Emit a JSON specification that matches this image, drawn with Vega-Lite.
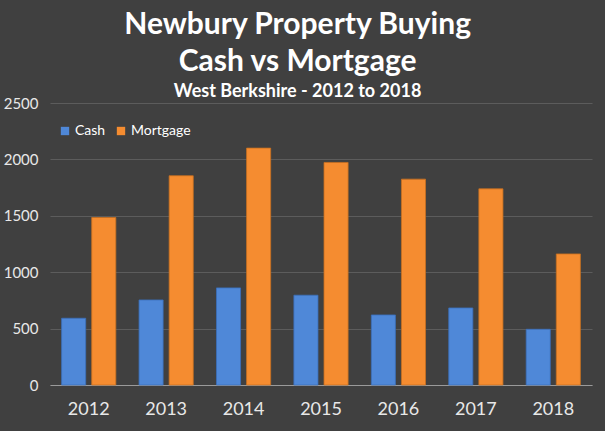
{
  "$schema": "https://vega.github.io/schema/vega-lite/v6.json",
  "description": "Newbury property buying, cash vs mortgage, 2012 to 2018.",
  "background": "#404040",
  "width": 605,
  "height": 431,
  "autosize": {"type": "fit", "contains": "padding"},
  "padding": {"left": 3, "right": 13, "top": 10, "bottom": 13},
  "title": {
    "text": ["Newbury Property Buying", "Cash vs Mortgage"],
    "subtitle": "West Berkshire - 2012 to 2018",
    "frame": "bounds",
    "anchor": "middle",
    "font": "Lato",
    "fontSize": 30,
    "fontWeight": "bold",
    "color": "#ffffff",
    "lineHeight": 37,
    "subtitleFont": "Lato",
    "subtitleFontSize": 18,
    "subtitleFontWeight": "bold",
    "subtitleColor": "#ffffff",
    "subtitlePadding": 6,
    "offset": -5
  },
  "data": {
    "values": [
      {"year": "2012", "type": "Cash", "sales": 592},
      {"year": "2012", "type": "Mortgage", "sales": 1485},
      {"year": "2013", "type": "Cash", "sales": 754},
      {"year": "2013", "type": "Mortgage", "sales": 1855},
      {"year": "2014", "type": "Cash", "sales": 861},
      {"year": "2014", "type": "Mortgage", "sales": 2100},
      {"year": "2015", "type": "Cash", "sales": 796},
      {"year": "2015", "type": "Mortgage", "sales": 1973},
      {"year": "2016", "type": "Cash", "sales": 621},
      {"year": "2016", "type": "Mortgage", "sales": 1825},
      {"year": "2017", "type": "Cash", "sales": 683},
      {"year": "2017", "type": "Mortgage", "sales": 1739},
      {"year": "2018", "type": "Cash", "sales": 494},
      {"year": "2018", "type": "Mortgage", "sales": 1162}
    ]
  },
  "mark": {"type": "bar", "strokeWidth": 0.8},
  "encoding": {
    "x": {
      "field": "year",
      "type": "nominal",
      "title": null,
      "scale": {"paddingInner": 0.3, "paddingOuter": 0.15},
      "axis": {
        "labelAngle": 0,
        "labelFont": "Lato",
        "labelFontSize": 18,
        "labelColor": "#e8e8e8",
        "labelPadding": 15,
        "ticks": false,
        "domainColor": "#9a9a9a",
        "domainWidth": 1.2
      }
    },
    "xOffset": {
      "field": "type",
      "type": "nominal",
      "scale": {"paddingInner": 0.2}
    },
    "y": {
      "field": "sales",
      "type": "quantitative",
      "title": null,
      "scale": {"domain": [0, 2500]},
      "axis": {
        "values": [0, 500, 1000, 1500, 2000, 2500],
        "format": "d",
        "labelFont": "Lato",
        "labelFontSize": 15,
        "labelColor": "#e8e8e8",
        "labelPadding": 12,
        "ticks": false,
        "domain": false,
        "gridColor": "#5c5c5c",
        "gridWidth": 1
      }
    },
    "color": {
      "field": "type",
      "type": "nominal",
      "scale": {"domain": ["Cash", "Mortgage"], "range": ["#4f88d8", "#f58c30"]},
      "legend": {
        "title": null,
        "orient": "none",
        "direction": "horizontal",
        "legendX": 8,
        "legendY": 21,
        "symbolType": "square",
        "symbolSize": 70,
        "symbolStrokeWidth": 0,
        "labelFont": "Lato",
        "labelFontSize": 14,
        "labelColor": "#ffffff",
        "labelOffset": 3,
        "columnPadding": 8
      }
    },
    "stroke": {
      "field": "type",
      "type": "nominal",
      "scale": {"domain": ["Cash", "Mortgage"], "range": ["#3a6fbb", "#c8701f"]},
      "legend": null
    }
  },
  "config": {"view": {"stroke": null}}
}
